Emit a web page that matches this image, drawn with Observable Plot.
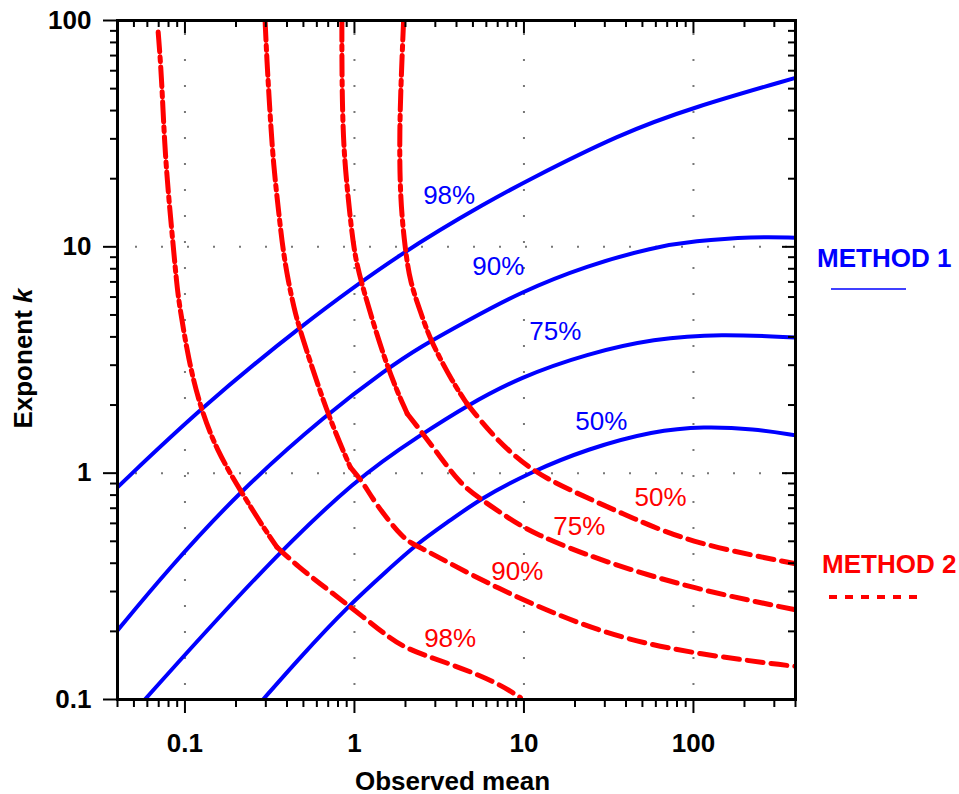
<!DOCTYPE html>
<html><head><meta charset="utf-8">
<script src="https://cdn.jsdelivr.net/npm/d3@7"></script>
<script src="https://cdn.jsdelivr.net/npm/@observablehq/plot@0.6"></script>
<style>
body{margin:0;background:#fff;}
#chart svg{display:block;}
</style></head><body><div id="chart"></div>
<script>
// ---- tick values ----
const xTicks = [0.1, 1, 10, 100];
const yTicks = [0.1, 1, 10, 100];
const xMinor = [0.04,0.05,0.06,0.07,0.08,0.09,0.2,0.3,0.4,0.5,0.6,0.7,0.8,0.9,2,3,4,5,6,7,8,9,20,30,40,50,60,70,80,90,200,300,400];
const yMinor = [0.2,0.3,0.4,0.5,0.6,0.7,0.8,0.9,2,3,4,5,6,7,8,9,20,30,40,50,60,70,80,90];

// ---- METHOD 1 (solid blue) curves: [observed mean, exponent k] ----
const m1_98 = [[0.04,0.867],[0.123,1.93],[0.47,4.42],[1.96,9.64],[6.32,16.0],[10,19.3],[37,31.6],[100,41.4],[400,55.8]];
const m1_90 = [[0.04,0.202],[0.0783,0.371],[0.212,0.839],[0.69,1.83],[1.56,2.89],[2.44,3.61],[4.61,4.70],[9.53,6.31],[23.6,8.27],[58.4,9.97],[100,10.6],[227,11.1],[400,10.97]];
const m1_75 = [[0.058,0.1],[0.279,0.371],[1.04,0.96],[2.44,1.47],[4.61,1.99],[9.53,2.66],[23.6,3.37],[58.4,3.93],[144.5,4.13],[400,3.97]];
const m1_50 = [[0.289,0.1],[0.479,0.154],[0.923,0.26],[1.56,0.371],[2.34,0.488],[3.67,0.618],[5.52,0.770],[10.9,1.01],[23.6,1.28],[58.4,1.54],[115,1.61],[227,1.57],[400,1.47]];

// ---- METHOD 2 (dashed red) curves ----
const m2_98 = [[0.0695,88.9],[0.0728,57.2],[0.0762,25.4],[0.0834,12.0],[0.0893,6.98],[0.0918,5.79],[0.105,3.15],[0.123,1.96],[0.154,1.26],[0.212,0.839],[0.290,0.577],[0.349,0.471],[0.47,0.384],[0.627,0.325],[0.843,0.274],[1.42,0.202],[1.95,0.168],[3.67,0.144],[6.93,0.119],[9.53,0.102]];
const m2_90 = [[0.297,100],[0.304,67.8],[0.318,38.1],[0.333,22.9],[0.359,13.8],[0.379,9.64],[0.408,6.98],[0.439,5.42],[0.47,4.42],[0.69,1.83],[0.947,1.06],[1.14,0.898],[1.29,0.757],[1.96,0.505],[2.34,0.48],[6.62,0.313],[28.2,0.195],[100,0.159],[400,0.140]];
const m2_75 = [[0.843,100],[0.843,53.4],[0.861,27.1],[0.923,15.8],[0.991,9.64],[1.09,7.0],[1.56,2.89],[2.05,1.83],[2.44,1.55],[3.21,1.18],[4.21,0.898],[5.52,0.770],[7.94,0.640],[11.4,0.54],[28.2,0.411],[100,0.308],[400,0.249]];
const m2_50 = [[1.95,100],[1.90,63.4],[1.84,32.1],[1.86,16.3],[1.99,9.81],[2.13,6.98],[2.44,5.23],[2.80,3.86],[3.85,2.48],[4.61,2.03],[6.59,1.45],[10.9,1.03],[18.8,0.839],[44.5,0.629],[100,0.488],[400,0.398]];
// index where each Method 2 curve switches from dash-dot to dashed segments
const m2Break = {"98": 11, "90": 10, "75": 7, "50": 9};

// ---- curve labels ----
const m1Labels = [
  {x:3.62, y:16.9, text:"98%"},
  {x:7.06, y:8.19, text:"90%"},
  {x:15.3, y:4.23, text:"75%"},
  {x:28.6, y:1.69, text:"50%"}
];
const m2Labels = [
  {x:64.0, y:0.781, text:"50%"},
  {x:21.2, y:0.581, text:"75%"},
  {x:9.14, y:0.368, text:"90%"},
  {x:3.67, y:0.186, text:"98%"}
];

const toRows = (pts, key) => pts.map(([x, y], i) => ({x, y, key, i}));
const rows1 = [...toRows(m1_98,"98"), ...toRows(m1_90,"90"), ...toRows(m1_75,"75"), ...toRows(m1_50,"50")];
const rows2 = [...toRows(m2_98,"98"), ...toRows(m2_90,"90"), ...toRows(m2_75,"75"), ...toRows(m2_50,"50")];
const rows2Upper = rows2.filter(d => d.i <= m2Break[d.key]);
const rows2Lower = rows2.filter(d => d.i >= m2Break[d.key]);

const W = 959, H = 794, ML = 117, MR = 164, MT = 20, MB = 95;
const FW = W - ML - MR, FH = H - MT - MB;
const fmt = d => String(d);

const svg = Plot.plot({
  width: W, height: H,
  marginLeft: ML, marginRight: MR, marginTop: MT, marginBottom: MB,
  style: {fontFamily: "'Liberation Sans', Arial, sans-serif", fontSize: "26px", fontWeight: "bold", color: "black", background: "white", overflow: "visible"},
  x: {type: "log", domain: [0.04, 400], label: null},
  y: {type: "log", domain: [0.1, 100], label: null},
  marks: [
    // dotted grid
    Plot.ruleX(xTicks, {x: d => d, stroke: "#777", strokeWidth: 2, strokeDasharray: "2,24", strokeDashoffset: 13}),
    Plot.ruleY(yTicks, {y: d => d, stroke: "#777", strokeWidth: 2, strokeDasharray: "2,24", strokeDashoffset: 8}),
    // curves
    Plot.line(rows1, {x: "x", y: "y", z: "key", stroke: "#0000ff", strokeWidth: 4, curve: "basis", clip: true}),
    Plot.line(rows2Upper, {x: "x", y: "y", z: "key", stroke: "#ff0000", strokeWidth: 5, strokeDasharray: "20,5,5,5", curve: "basis", clip: true}),
    Plot.line(rows2Lower, {x: "x", y: "y", z: "key", stroke: "#ff0000", strokeWidth: 5, strokeDasharray: "16,8", curve: "basis", clip: true}),
    // curve labels
    Plot.text(m1Labels, {x: "x", y: "y", text: "text", fill: "#0000ff", fontSize: 26, fontWeight: "normal"}),
    Plot.text(m2Labels, {x: "x", y: "y", text: "text", fill: "#ff0000", fontSize: 26, fontWeight: "normal"}),
    // axes (outer ticks + labels)
    Plot.axisX({ticks: xTicks, anchor: "bottom", tickSize: 14, tickPadding: 20, tickFormat: fmt, strokeWidth: 2, label: null}),
    Plot.axisY({ticks: yTicks, anchor: "left", tickSize: 14, tickPadding: 12, tickFormat: fmt, strokeWidth: 2, label: null}),
    Plot.tickX(xMinor, {x: d => d, insetTop: FH, insetBottom: -8, stroke: "black", strokeWidth: 2}),
    Plot.tickY(yMinor, {y: d => d, insetRight: FW, insetLeft: -7, stroke: "black", strokeWidth: 2}),
    // inner ticks on top and right
    Plot.tickX(xTicks, {x: d => d, insetBottom: FH - 13, stroke: "black", strokeWidth: 2}),
    Plot.tickX(xMinor, {x: d => d, insetBottom: FH - 7, stroke: "black", strokeWidth: 2}),
    Plot.tickY(yTicks, {y: d => d, insetLeft: FW - 13, stroke: "black", strokeWidth: 2}),
    Plot.tickY(yMinor, {y: d => d, insetLeft: FW - 7, stroke: "black", strokeWidth: 2}),
    // axis titles
    Plot.text(["Observed mean"], {text: d => d, frameAnchor: "bottom", textAnchor: "middle", lineAnchor: "middle", dy: 82, dx: -4, fontSize: 26, fontWeight: "bold"}),
    Plot.text(["Exponent k"], {text: d => d, frameAnchor: "left", textAnchor: "middle", lineAnchor: "middle", rotate: -90, dx: -93.5, dy: -1.5, fontSize: 26, fontWeight: "bold"}),
    Plot.frame({stroke: "black", strokeWidth: 3})
  ]
});

// italic k in the y title
d3.select(svg).selectAll("text").each(function() {
  if (this.textContent === "Exponent k") {
    this.textContent = "Exponent ";
    d3.select(this).append("tspan").attr("font-style", "italic").text("k");
  }
});

// legend
const leg = d3.select(svg).append("g").attr("text-anchor", "start").attr("font-weight", "bold").attr("font-size", 26);
leg.append("text").attr("x", 817).attr("y", 267).attr("fill", "#0000ff").text("METHOD 1");
leg.append("line").attr("x1", 831).attr("x2", 906).attr("y1", 289).attr("y2", 289).attr("stroke", "#0000ff").attr("stroke-width", 1.5);
leg.append("text").attr("x", 822).attr("y", 573).attr("fill", "#ff0000").text("METHOD 2");
leg.append("line").attr("x1", 829).attr("x2", 917).attr("y1", 597).attr("y2", 597).attr("stroke", "#ff0000").attr("stroke-width", 4).attr("stroke-dasharray", "8,8");

document.getElementById("chart").appendChild(svg);
</script></body></html>
